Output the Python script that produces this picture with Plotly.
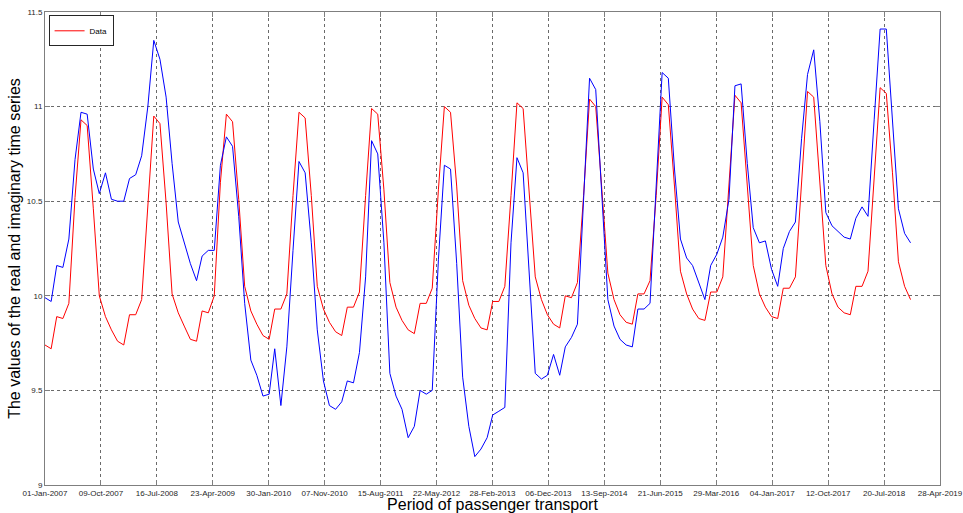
import datetime as dt
import plotly.graph_objects as go

start_month = "2007-01"
n_months = 144

blue_vals = [
    9.99, 9.97, 10.16, 10.15, 10.30, 10.72, 10.97, 10.96, 10.67, 10.54, 10.65, 10.51,
    10.50, 10.50, 10.62, 10.64, 10.74, 11.00, 11.35, 11.25, 11.05, 10.70, 10.39, 10.28,
    10.17, 10.08, 10.21, 10.24, 10.24, 10.69, 10.84, 10.79, 10.42, 9.96, 9.66, 9.58,
    9.47, 9.48, 9.72, 9.42, 9.73, 10.24, 10.71, 10.65, 10.28, 9.82, 9.55, 9.42,
    9.40, 9.44, 9.55, 9.54, 9.70, 10.10, 10.82, 10.75, 10.28, 9.59, 9.47, 9.40,
    9.25, 9.31, 9.50, 9.48, 9.50, 10.19, 10.69, 10.67, 10.17, 9.57, 9.31, 9.15,
    9.19, 9.25, 9.37, 9.39, 9.41, 10.28, 10.73, 10.65, 10.10, 9.59, 9.56, 9.58,
    9.69, 9.58, 9.73, 9.78, 9.85, 10.51, 11.15, 11.09, 10.53, 9.98, 9.84, 9.77,
    9.74, 9.73, 9.93, 9.93, 9.96, 10.55, 11.18, 11.15, 10.67, 10.30, 10.20, 10.16,
    10.07, 9.98, 10.16, 10.22, 10.31, 10.51, 11.11, 11.12, 10.70, 10.36, 10.28, 10.29,
    10.14, 10.05, 10.25, 10.34, 10.39, 10.83, 11.17, 11.30, 10.92, 10.44, 10.37, 10.34,
    10.31, 10.30, 10.41, 10.47, 10.42, 10.93, 11.41, 11.41, 10.93, 10.46, 10.33, 10.28,
]

red_vals = [
    9.74, 9.72, 9.89, 9.88, 9.96, 10.52, 10.93, 10.90, 10.46, 10.00, 9.89, 9.82,
    9.76, 9.74, 9.90, 9.90, 9.98, 10.46, 10.95, 10.91, 10.49, 10.01, 9.91, 9.84,
    9.77, 9.76, 9.92, 9.91, 10.00, 10.60, 10.96, 10.92, 10.51, 10.05, 9.92, 9.85,
    9.79, 9.77, 9.93, 9.93, 10.01, 10.53, 10.97, 10.94, 10.53, 10.05, 9.93, 9.86,
    9.81, 9.79, 9.94, 9.94, 10.02, 10.53, 10.99, 10.96, 10.56, 10.07, 9.94, 9.87,
    9.82, 9.80, 9.96, 9.96, 10.04, 10.56, 11.00, 10.97, 10.58, 10.08, 9.95, 9.88,
    9.83, 9.82, 9.97, 9.97, 10.05, 10.53, 11.02, 10.99, 10.53, 10.10, 9.98, 9.90,
    9.85, 9.83, 10.00, 9.99, 10.07, 10.53, 11.04, 11.00, 10.56, 10.12, 9.98, 9.90,
    9.86, 9.85, 10.01, 10.01, 10.08, 10.53, 11.05, 11.01, 10.58, 10.13, 10.01, 9.93,
    9.88, 9.87, 10.02, 10.02, 10.10, 10.56, 11.06, 11.02, 10.58, 10.16, 10.01, 9.94,
    9.89, 9.88, 10.04, 10.04, 10.10, 10.60, 11.08, 11.05, 10.61, 10.16, 10.01, 9.94,
    9.91, 9.90, 10.05, 10.05, 10.13, 10.60, 11.10, 11.07, 10.65, 10.18, 10.05, 9.98,
]

x_tick_labels = [
    "01-Jan-2007", "09-Oct-2007", "16-Jul-2008", "23-Apr-2009", "30-Jan-2010",
    "07-Nov-2010", "15-Aug-2011", "22-May-2012", "28-Feb-2013", "06-Dec-2013",
    "13-Sep-2014", "21-Jun-2015", "29-Mar-2016", "04-Jan-2017", "12-Oct-2017",
    "20-Jul-2018", "28-Apr-2019",
]
y_tick_vals = [9, 9.5, 10, 10.5, 11, 11.5]
y_tick_labels = ["9", "9.5", "10", "10.5", "11", "11.5"]

x_start = dt.datetime(2007, 1, 1)
x_end = dt.datetime(2019, 4, 28)

# monthly dates
y0, m0 = map(int, start_month.split("-"))
dates = []
for k in range(n_months):
    yy = y0 + (m0 - 1 + k) // 12
    mm = (m0 - 1 + k) % 12 + 1
    dates.append(dt.datetime(yy, mm, 1))

span = (x_end - x_start) / (len(x_tick_labels) - 1)
tick_vals = [x_start + span * k for k in range(len(x_tick_labels))]

fig = go.Figure()
fig.add_trace(go.Scatter(x=dates, y=red_vals, mode="lines", name="Data",
                         line=dict(color="#ff0000", width=1), showlegend=True))
fig.add_trace(go.Scatter(x=dates, y=blue_vals, mode="lines", name="Series",
                         line=dict(color="#0000ff", width=1), showlegend=False))

axis_common = dict(
    showline=True, linecolor="#7f7f7f", linewidth=1, mirror="ticks",
    ticks="inside", ticklen=5, tickcolor="#7f7f7f",
    showgrid=True, gridcolor="#6a6a6a", griddash="dot", gridwidth=1,
    zeroline=False, automargin=False, tickangle=0,
    tickfont=dict(family="Liberation Sans, Arial", size=8, color="#262626"),
)

fig.update_xaxes(
    type="date", range=[x_start, x_end],
    tickmode="array", tickvals=tick_vals, ticktext=x_tick_labels,
    title=dict(text="Period of passenger transport",
               font=dict(family="Liberation Sans, Arial", size=16, color="#000000"),
               standoff=2),
    **axis_common,
)
fig.update_yaxes(
    range=[9, 11.5], tickmode="array", tickvals=y_tick_vals, ticktext=y_tick_labels,
    title=dict(text="The values of the real and imaginary time series",
               font=dict(family="Liberation Sans, Arial", size=16, color="#000000"),
               standoff=2),
    **axis_common,
)

fig.update_layout(
    width=963, height=513,
    margin=dict(l=45, r=23, t=12, b=28),
    paper_bgcolor="white", plot_bgcolor="white",
    legend=dict(x=0.004, y=0.993, xanchor="left", yanchor="top",
                bgcolor="white", bordercolor="#262626", borderwidth=1,
                font=dict(family="Liberation Sans, Arial", size=8, color="#000000"),
                itemwidth=30, tracegroupgap=0),
    showlegend=True,
)

fig.write_html("out.html")
